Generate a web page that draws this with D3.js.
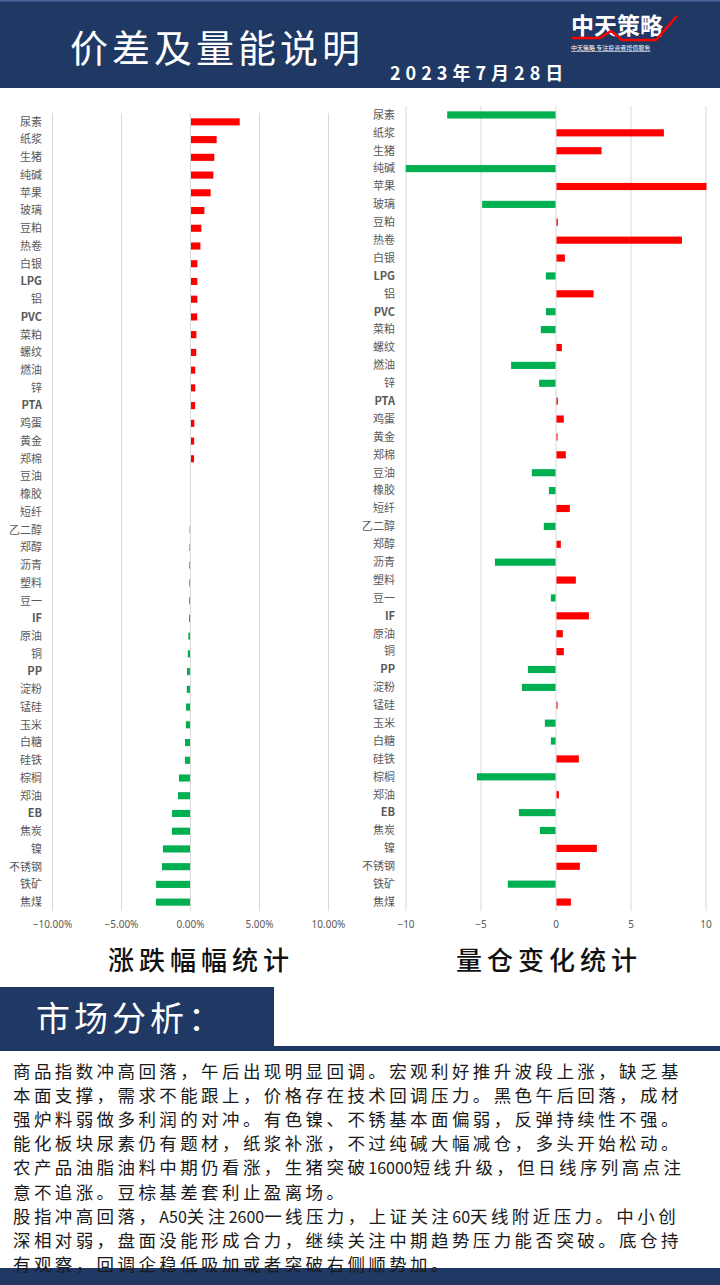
<!DOCTYPE html>
<html>
<head>
<meta charset="utf-8">
<script src="https://cdn.jsdelivr.net/npm/d3@7"></script>
<style>
  html, body { margin: 0; padding: 0; background: #fff; }
  svg { display: block; font-family: "Noto Sans CJK SC", "Noto Sans", sans-serif; }
</style>
</head>
<body>
<svg id="page" width="720" height="1285"></svg>
<script>
// categories, same order in both charts
const categories = ["尿素","纸浆","生猪","纯碱","苹果","玻璃","豆粕","热卷","白银","LPG","铝","PVC","菜粕","螺纹","燃油","锌","PTA","鸡蛋","黄金","郑棉","豆油","橡胶","短纤","乙二醇","郑醇","沥青","塑料","豆一","IF","原油","铜","PP","淀粉","锰硅","玉米","白糖","硅铁","棕榈","郑油","EB","焦炭","镍","不锈钢","铁矿","焦煤"];

// price change (fraction)
const priceChange = [0.0353,0.0186,0.0169,0.0162,0.0142,0.0097,0.0075,0.0068,0.0046,0.0046,0.0046,0.0045,0.0039,0.0038,0.0031,0.0031,0.0030,0.0024,0.0023,0.0022,0.0000,0.0000,0.0000,-0.0003,-0.0004,-0.0005,-0.0005,-0.0006,-0.0007,-0.0012,-0.0016,-0.0022,-0.0023,-0.0029,-0.0030,-0.0036,-0.0037,-0.0080,-0.0087,-0.0130,-0.0131,-0.0196,-0.0203,-0.0246,-0.0247];

// volume / open interest change
const volumeChange = [-7.22,7.16,3.0,-9.98,10.0,-4.89,0.09,8.36,0.56,-0.64,2.47,-0.64,-0.98,0.36,-2.96,-1.09,0.09,0.49,0.07,0.62,-1.58,-0.44,0.89,-0.78,0.29,-4.04,1.29,-0.31,2.16,0.42,0.49,-1.84,-2.24,0.07,-0.71,-0.31,1.49,-5.24,0.16,-2.44,-1.04,2.69,1.56,-3.18,0.96];

const leftTicks = [-0.1, -0.05, 0, 0.05, 0.1];
const rightTicks = [-10, -5, 0, 5, 10];

const analysisLines = [
  "商品指数冲高回落，午后出现明显回调。宏观利好推升波段上涨，缺乏基",
  "本面支撑，需求不能跟上，价格存在技术回调压力。黑色午后回落，成材",
  "强炉料弱做多利润的对冲。有色镍、不锈基本面偏弱，反弹持续性不强。",
  "能化板块尿素仍有题材，纸浆补涨，不过纯碱大幅减仓，多头开始松动。",
  "农产品油脂油料中期仍看涨，生猪突破16000短线升级，但日线序列高点注",
  "意不追涨。豆棕基差套利止盈离场。",
  "股指冲高回落，A50关注2600一线压力，上证关注60天线附近压力。中小创",
  "深相对弱，盘面没能形成合力，继续关注中期趋势压力能否突破。底仓持",
  "有观察，回调企稳低吸加或者突破右侧顺势加。"
];

const navy = "#203864";
const red = "#ff0000";
const green = "#00b050";
const grid = "#d9d9d9";
const labelColor = "#595959";

const svg = d3.select("#page");

// ---------- header ----------
svg.append("rect").attr("x", 0).attr("y", 0).attr("width", 720).attr("height", 88).attr("fill", navy);
svg.append("rect").attr("x", 0).attr("y", 0).attr("width", 720).attr("height", 1.5).attr("fill", "#4a6aa0");

svg.append("text")
  .attr("x", 70).attr("y", 62)
  .attr("fill", "#fff")
  .attr("font-size", 38)
  .attr("font-weight", 400)
  .attr("letter-spacing", 4)
  .text("价差及量能说明");

svg.append("text")
  .attr("x", 390).attr("y", 80)
  .attr("fill", "#fff")
  .attr("font-size", 18)
  .attr("font-weight", 700)
  .attr("letter-spacing", 5)
  .text("2023年7月28日");

// logo
const logo = svg.append("g");
logo.append("text")
  .attr("x", 571).attr("y", 34)
  .attr("fill", "#fff").attr("font-size", 23).attr("font-weight", 700)
  .text("中天策略");
logo.append("path")
  .attr("d", "M572,38 L600,38 L611,31 L622,40 L656,40 L677,16")
  .attr("fill", "none").attr("stroke", red).attr("stroke-width", 2.5);
logo.append("text")
  .attr("x", 571).attr("y", 50)
  .attr("fill", "#fff").attr("font-size", 6)
  .attr("text-decoration", "underline")
  .text("中天策略    专注投资者增值服务");

// ---------- bar chart helper ----------
function drawBars(opts) {
  const x = d3.scaleLinear().domain(opts.domain).range(opts.xRange);
  const y = d3.scaleBand().domain(categories).range(opts.yRange).paddingInner(0.6).paddingOuter(0.3);
  const g = svg.append("g");

  // gridlines
  g.append("g")
    .selectAll("line")
    .data(opts.ticks)
    .join("line")
    .attr("x1", d => x(d) + 0.5).attr("x2", d => x(d) + 0.5)
    .attr("y1", opts.yRange[0]).attr("y2", opts.yRange[1])
    .attr("stroke", grid).attr("stroke-width", 1);

  // bars
  g.append("g")
    .selectAll("rect")
    .data(opts.values)
    .join("rect")
    .attr("x", d => x(Math.min(0, d)) + (d > 0 ? 1 : 0))
    .attr("y", (d, i) => y(categories[i]))
    .attr("width", d => Math.abs(x(d) - x(0)))
    .attr("height", y.bandwidth())
    .attr("fill", d => d >= 0 ? red : green);

  // category labels
  g.append("g")
    .selectAll("text")
    .data(categories)
    .join("text")
    .attr("x", opts.labelX)
    .attr("y", d => y(d) + y.bandwidth() / 2)
    .attr("dy", "0.35em")
    .attr("text-anchor", "end")
    .attr("font-size", 11)
    .attr("font-weight", d => /[A-Z]/.test(d) ? 700 : 400)
    .attr("fill", labelColor)
    .text(d => d);

  // x axis tick labels
  const axis = d3.axisBottom(x).tickValues(opts.ticks).tickSize(0).tickFormat(opts.format);
  const ax = g.append("g")
    .attr("transform", `translate(0,${opts.axisY})`)
    .call(axis);
  ax.select(".domain").remove();
  ax.selectAll("text")
    .attr("font-family", '"Noto Sans", sans-serif')
    .attr("font-size", 10)
    .attr("fill", labelColor);
}

drawBars({
  domain: [-0.1, 0.1],
  xRange: [52, 328],
  yRange: [113, 911],
  ticks: leftTicks,
  values: priceChange,
  labelX: 42,
  axisY: 918,
  format: d3.format(".2%")
});

drawBars({
  domain: [-10, 10],
  xRange: [405.5, 705.5],
  yRange: [106, 911],
  ticks: rightTicks,
  values: volumeChange,
  labelX: 395,
  axisY: 918,
  format: d3.format("d")
});

// ---------- section titles ----------
svg.append("text")
  .attr("x", 201).attr("y", 970)
  .attr("text-anchor", "middle")
  .attr("font-size", 26).attr("font-weight", 500)
  .attr("letter-spacing", 5)
  .attr("fill", "#111")
  .text("涨跌幅幅统计");
svg.append("text")
  .attr("x", 549).attr("y", 970)
  .attr("text-anchor", "middle")
  .attr("font-size", 26).attr("font-weight", 500)
  .attr("letter-spacing", 5)
  .attr("fill", "#111")
  .text("量仓变化统计");

// ---------- market analysis ----------
svg.append("rect").attr("x", 0).attr("y", 987).attr("width", 274).attr("height", 62).attr("fill", navy);
svg.append("rect").attr("x", 0).attr("y", 1046).attr("width", 720).attr("height", 5).attr("fill", navy);
svg.append("text")
  .attr("x", 36).attr("y", 1031)
  .attr("fill", "#fff")
  .attr("font-size", 34).attr("font-weight", 400)
  .attr("letter-spacing", 4)
  .text("市场分析：");

// footer bar
svg.append("rect").attr("x", 0).attr("y", 1268).attr("width", 720).attr("height", 17).attr("fill", navy);

// paragraph: latin/digit runs get a narrower setting than the CJK runs
const lines = svg.append("g")
  .selectAll("text")
  .data(analysisLines)
  .join("text")
  .attr("x", 13)
  .attr("y", (d, i) => 1072 + i * 24.2)
  .attr("dy", "0.35em")
  .attr("fill", "#1a1a1a");

lines.selectAll("tspan")
  .data(d => d.match(/[\x00-\x7f]+|[^\x00-\x7f]+/g))
  .join("tspan")
  .attr("font-size", s => /^[\x00-\x7f]+$/.test(s) ? 16 : 17.5)
  .attr("letter-spacing", s => /^[\x00-\x7f]+$/.test(s) ? 0 : 3.4)
  .text(s => s);
</script>
</body>
</html>
